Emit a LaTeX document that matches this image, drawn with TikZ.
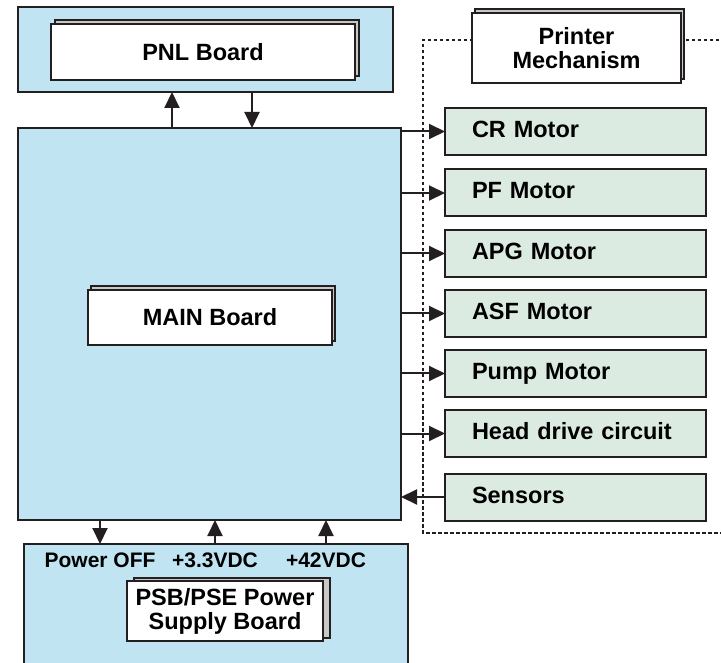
\documentclass[tikz,border=0pt]{standalone}
\usepackage{fontspec}
\setmainfont{Liberation Sans}
\usetikzlibrary{arrows.meta,shadows,calc}
\definecolor{bluef}{RGB}{192,228,242}
\definecolor{greenf}{RGB}{220,235,226}
\definecolor{linec}{RGB}{35,31,32}
\definecolor{sheetf}{RGB}{200,200,200}
\begin{document}
\begin{tikzpicture}[x=1pt,y=-1pt,
  every node/.style={inner sep=0pt, outer sep=0pt},
  bluebox/.style={draw=linec, fill=bluef, line width=2pt, rectangle},
  board/.style={draw=linec, fill=white, line width=2pt, rectangle, align=center,
     font=\fontsize{23.5}{24}\selectfont\bfseries},
  sheet/.style 2 args={general shadow={shadow xshift=#1pt, shadow yshift=#2pt,
     fill=sheetf, draw=linec, line width=2pt}},
  greenbox/.style={draw=linec, fill=greenf, line width=2pt, rectangle,
     minimum height=47pt, text width=207pt, inner xsep=27pt, align=left,
     text height=17pt, text depth=5pt,
     font=\fontsize{23.5}{24}\selectfont\bfseries},
  lbl/.style={font=\fontsize{21}{22}\selectfont\bfseries, anchor=base},
  arr/.style={draw=linec, line width=2pt, -{Triangle[length=16pt,width=15pt]}},
  frame/.style={draw=linec, line width=1.6pt, dash pattern=on 3.5pt off 2.5pt}
]
\useasboundingbox (0,0) rectangle (721,663);

% dotted frame of printer mechanism
\coordinate (f1) at (725,40);
\coordinate (f2) at (423,40);
\coordinate (f3) at (423,533);
\coordinate (f4) at (725,533);
\draw[frame] (f1) -- (f2) -- (f3) -- (f4);

% outer blue boards
\node[bluebox, minimum width=375pt, minimum height=85pt] (pnlouter) at (205.5,49.5) {};
\node[bluebox, minimum width=383pt, minimum height=392pt] (main) at (209.5,324) {};
\node[bluebox, minimum width=384pt, minimum height=124pt] (psu) at (216,606) {};

% inner boards
\node[board, sheet={3.5}{4}, minimum width=304pt, minimum height=56pt] (pnl) at (203,52) {PNL Board};
\node[board, sheet={3}{4}, minimum width=244pt, minimum height=55pt] (mainb) at (210,317.5) {MAIN Board};
\node[board, sheet={7}{3}, minimum width=196pt, minimum height=60pt] (psb) at (225,611) {PSB/PSE Power\\Supply Board};
\node[board, sheet={3}{4}, minimum width=209pt, minimum height=70pt] (pm) at (576.5,48) {Printer\\Mechanism};

% power labels
\node[lbl] (loff) at (100,567) {Power OFF};
\node[lbl] (l33) at (215,567) {+3.3VDC};
\node[lbl] (l42) at (326,567) {+42VDC};

% mechanism boxes
\node[greenbox] (cr)   at (575.5,131.5) {CR Motor};
\node[greenbox] (pf)   at (575.5,193)   {PF Motor};
\node[greenbox] (apg)  at (575.5,253.5) {APG Motor};
\node[greenbox] (asf)  at (575.5,313.5) {ASF Motor};
\node[greenbox] (pump) at (575.5,373.5) {Pump Motor};
\node[greenbox] (head) at (575.5,433.5) {Head drive circuit};
\node[greenbox] (sens) at (575.5,497)   {Sensors};

% arrows main -> mechanism
\foreach \n in {cr,pf,apg,asf,pump,head}
  \draw[arr] (main.east |- \n.west) -- (\n.west);
\draw[arr] (sens.west) -- (main.east |- sens.west);

% arrows main <-> PNL
\coordinate (xa) at (172,0);
\coordinate (xb) at (252,0);
\draw[arr] (main.north -| xa) -- (pnlouter.south -| xa);
\draw[arr] (pnlouter.south -| xb) -- (main.north -| xb);

% arrows main <-> power supply
\draw[arr] (main.south -| loff) -- (psu.north -| loff);
\draw[arr] (psu.north -| l33) -- (main.south -| l33);
\draw[arr] (psu.north -| l42) -- (main.south -| l42);
\end{tikzpicture}
\end{document}
